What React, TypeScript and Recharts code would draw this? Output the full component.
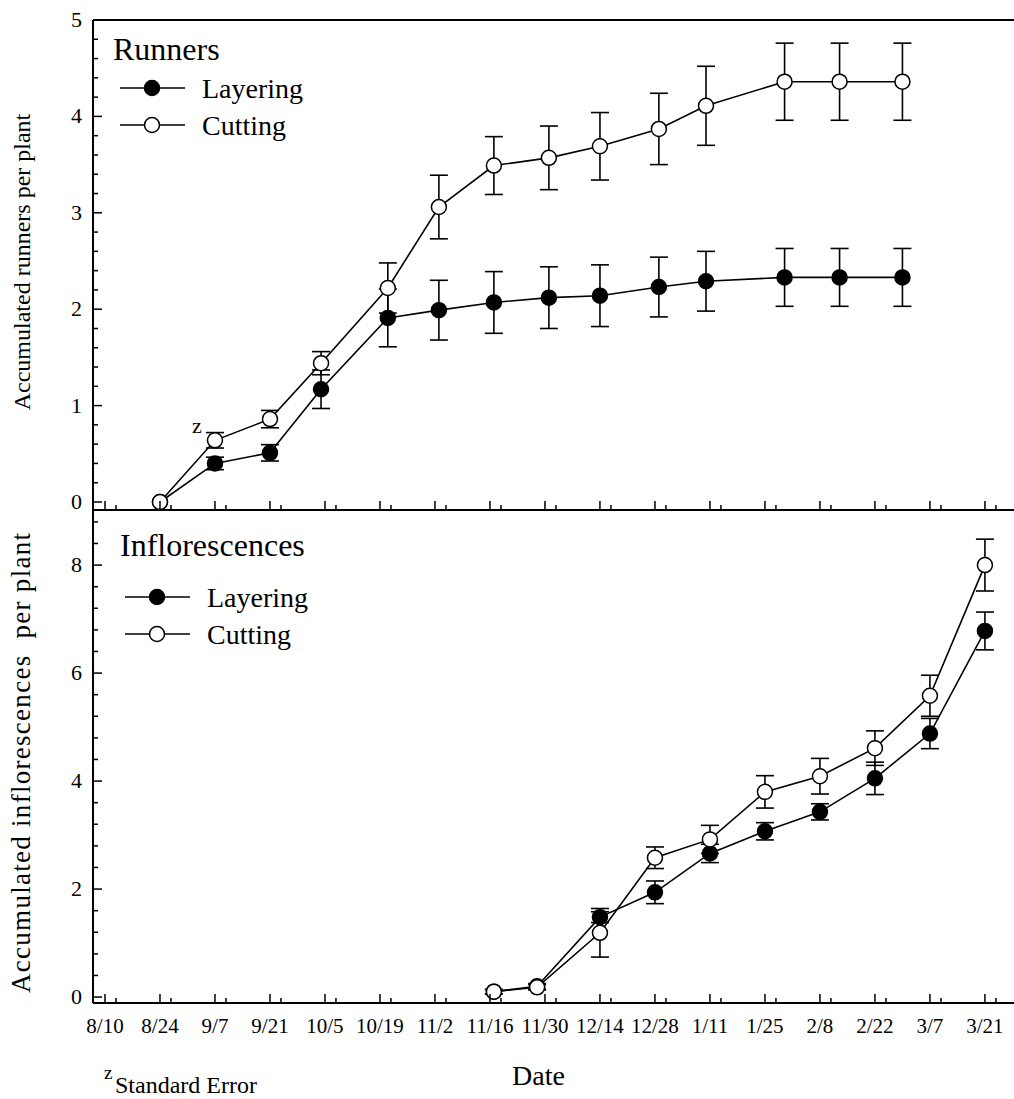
import { LineChart, Line, XAxis, YAxis, ErrorBar, ReferenceLine } from "recharts";

const FONT = "'Liberation Serif', 'Times New Roman', serif";

// x axis: days after 8/10
const dateTicks = [0, 14, 28, 42, 56, 70, 84, 98, 112, 126, 140, 154, 168, 182, 196, 210, 224];
const dateLabels = ["8/10", "8/24", "9/7", "9/21", "10/5", "10/19", "11/2", "11/16", "11/30", "12/14", "12/28", "1/11", "1/25", "2/8", "2/22", "3/7", "3/21"];
const minorDateTicks = dateTicks.map((d) => d + 2.8);

// runners panel
const runnerDays = [14, 28, 42, 55, 72, 85, 99, 113, 126, 141, 153, 173, 187, 203];
const runnersLayering = [0, 0.4, 0.51, 1.17, 1.91, 1.99, 2.07, 2.12, 2.14, 2.23, 2.29, 2.33, 2.33, 2.33];
const runnersLayeringSE = [null, 0.065, 0.085, 0.2, 0.3, 0.31, 0.32, 0.32, 0.32, 0.31, 0.31, 0.3, 0.3, 0.3];
const runnersCutting = [0, 0.64, 0.86, 1.44, 2.22, 3.06, 3.49, 3.57, 3.69, 3.87, 4.11, 4.36, 4.36, 4.36];
const runnersCuttingSE = [null, 0.08, 0.09, 0.12, 0.26, 0.33, 0.3, 0.33, 0.35, 0.37, 0.41, 0.4, 0.4, 0.4];

// inflorescences panel
const inflDays = [99, 110, 126, 140, 154, 168, 182, 196, 210, 224];
const inflLayering = [0.1, 0.2, 1.48, 1.94, 2.66, 3.07, 3.43, 4.05, 4.88, 6.78];
const inflLayeringSE = [0.04, 0.05, 0.1, 0.21, 0.17, 0.16, 0.15, 0.3, 0.28, 0.35];
const inflCutting = [0.1, 0.18, 1.19, 2.58, 2.92, 3.8, 4.09, 4.61, 5.58, 8.0];
const inflCuttingSE = [0.04, 0.05, 0.45, 0.2, 0.26, 0.3, 0.33, 0.32, 0.38, 0.48];

const runnerYTicks = Array.from({ length: 26 }, (_, i) => Math.round(i * 2) / 10);
const inflYTicks = Array.from({ length: 23 }, (_, i) => Math.round(i * 4) / 10);

const runnerRows = runnerDays.map((d, i) => ({
  day: d,
  layering: runnersLayering[i],
  layeringSE: runnersLayeringSE[i],
  cutting: runnersCutting[i],
  cuttingSE: runnersCuttingSE[i],
}));

const inflRows = inflDays.map((d, i) => ({
  day: d,
  layering: inflLayering[i],
  layeringSE: inflLayeringSE[i],
  cutting: inflCutting[i],
  cuttingSE: inflCuttingSE[i],
}));

const X_DOMAIN = [-3.05, 231.4];

const makeXTick = (showLabels: boolean) => (props: any) => {
  const { x, y, payload } = props;
  const i = dateTicks.indexOf(payload.value);
  const major = i >= 0;
  return (
    <g>
      <line x1={x} x2={x} y1={y} y2={y - (major ? 9 : 5)} stroke="#000" strokeWidth={1.5} />
      {major && showLabels && (
        <text x={x} y={y + 30} textAnchor="middle" fontSize={21} fontFamily={FONT} fill="#000">
          {dateLabels[i]}
        </text>
      )}
    </g>
  );
};

const makeYTick = (isMajor: (v: number) => boolean) => (props: any) => {
  const { x, y, payload } = props;
  const v = Math.round(payload.value * 10) / 10;
  const major = isMajor(v);
  return (
    <g>
      <line x1={x} x2={x + (major ? 9 : 5)} y1={y} y2={y} stroke="#000" strokeWidth={1.5} />
      {major && (
        <text x={x - 11} y={y + 7} textAnchor="end" fontSize={22} fontFamily={FONT} fill="#000">
          {v}
        </text>
      )}
    </g>
  );
};

const filledDot = { r: 7.5, fill: "#000", stroke: "#000", strokeWidth: 1.5 };
const openDot = { r: 7.5, fill: "#fff", stroke: "#000", strokeWidth: 1.5 };

function LegendRows({ x, y }: { x: number; y: number }) {
  return (
    <g>
      <line x1={x} x2={x + 65} y1={y} y2={y} stroke="#000" strokeWidth={1.6} />
      <circle cx={x + 32} cy={y} r={7.5} fill="#000" stroke="#000" strokeWidth={1.5} />
      <text x={x + 82} y={y + 10} fontSize={28} fontFamily={FONT}>Layering</text>
      <line x1={x} x2={x + 65} y1={y + 37} y2={y + 37} stroke="#000" strokeWidth={1.6} />
      <circle cx={x + 32} cy={y + 37} r={7.5} fill="#fff" stroke="#000" strokeWidth={1.5} />
      <text x={x + 82} y={y + 47} fontSize={28} fontFamily={FONT}>Cutting</text>
    </g>
  );
}

export default function App() {
  const axisStroke = { stroke: "#000", strokeWidth: 2 };
  return (
    <div style={{ position: "absolute", left: 0, top: 0, width: 1014, height: 1099, background: "#fff", fontFamily: FONT }}>
      <div style={{ position: "absolute", left: 0, top: 0 }}>
        <LineChart width={1014} height={530} data={runnerRows} margin={{ top: 20, right: 0, left: 92, bottom: 19 }}>
          <XAxis
            dataKey="day"
            type="number"
            domain={X_DOMAIN}
            ticks={[...dateTicks, ...minorDateTicks]}
            interval={0}
            height={1}
            tickSize={0}
            tickMargin={0}
            axisLine={axisStroke}
            tickLine={false}
            tick={makeXTick(false)}
          />
          <YAxis
            type="number"
            domain={[-0.083, 5]}
            ticks={runnerYTicks}
            interval={0}
            width={1}
            tickSize={0}
            tickMargin={0}
            axisLine={axisStroke}
            tickLine={false}
            tick={makeYTick((v) => Number.isInteger(v))}
          />
          <ReferenceLine y={5} stroke="#000" strokeWidth={2} />
          <Line dataKey="layering" type="linear" stroke="#000" strokeWidth={1.6} dot={filledDot} activeDot={false} isAnimationActive={false}>
            <ErrorBar dataKey="layeringSE" width={9} stroke="#000" strokeWidth={1.6} direction="y" isAnimationActive={false} />
          </Line>
          <Line dataKey="cutting" type="linear" stroke="#000" strokeWidth={1.6} dot={openDot} activeDot={false} isAnimationActive={false}>
            <ErrorBar dataKey="cuttingSE" width={9} stroke="#000" strokeWidth={1.6} direction="y" isAnimationActive={false} />
          </Line>
        </LineChart>
      </div>
      <div style={{ position: "absolute", left: 0, top: 510 }}>
        <LineChart width={1014} height={589} data={inflRows} margin={{ top: 0, right: 0, left: 92, bottom: 95 }}>
          <XAxis
            dataKey="day"
            type="number"
            domain={X_DOMAIN}
            ticks={[...dateTicks, ...minorDateTicks]}
            interval={0}
            height={1}
            tickSize={0}
            tickMargin={0}
            axisLine={axisStroke}
            tickLine={false}
            tick={makeXTick(true)}
          />
          <YAxis
            type="number"
            domain={[-0.11, 9.02]}
            ticks={inflYTicks}
            interval={0}
            width={1}
            tickSize={0}
            tickMargin={0}
            axisLine={axisStroke}
            tickLine={false}
            tick={makeYTick((v) => v % 2 === 0)}
          />
          <Line dataKey="layering" type="linear" stroke="#000" strokeWidth={1.6} dot={filledDot} activeDot={false} isAnimationActive={false}>
            <ErrorBar dataKey="layeringSE" width={9} stroke="#000" strokeWidth={1.6} direction="y" isAnimationActive={false} />
          </Line>
          <Line dataKey="cutting" type="linear" stroke="#000" strokeWidth={1.6} dot={openDot} activeDot={false} isAnimationActive={false}>
            <ErrorBar dataKey="cuttingSE" width={9} stroke="#000" strokeWidth={1.6} direction="y" isAnimationActive={false} />
          </Line>
        </LineChart>
      </div>
      <svg width={1014} height={1099} style={{ position: "absolute", left: 0, top: 0, pointerEvents: "none" }}>
        <text x={113} y={60} fontSize={32} fontFamily={FONT}>Runners</text>
        <LegendRows x={120} y={88} />
        <text x={120} y={556} fontSize={32} fontFamily={FONT}>Inflorescences</text>
        <LegendRows x={125} y={597} />
        <text x={192} y={433} fontSize={22} fontFamily={FONT}>z</text>
        <text transform="translate(30,262) rotate(-90)" textAnchor="middle" fontSize={24} fontFamily={FONT}>
          Accumulated runners per plant
        </text>
        <text
          transform="translate(30,763) rotate(-90)"
          textAnchor="middle"
          fontSize={27}
          fontFamily={FONT}
          textLength={460}
          lengthAdjust="spacing"
          style={{ whiteSpace: "pre" }}
        >
          {"Accumulated inflorescences  per plant"}
        </text>
        <text x={512} y={1085} fontSize={28} fontFamily={FONT}>Date</text>
        <text x={104} y={1079} fontSize={19} fontFamily={FONT}>z</text>
        <text x={115} y={1093} fontSize={24} fontFamily={FONT}>Standard Error</text>
      </svg>
    </div>
  );
}
